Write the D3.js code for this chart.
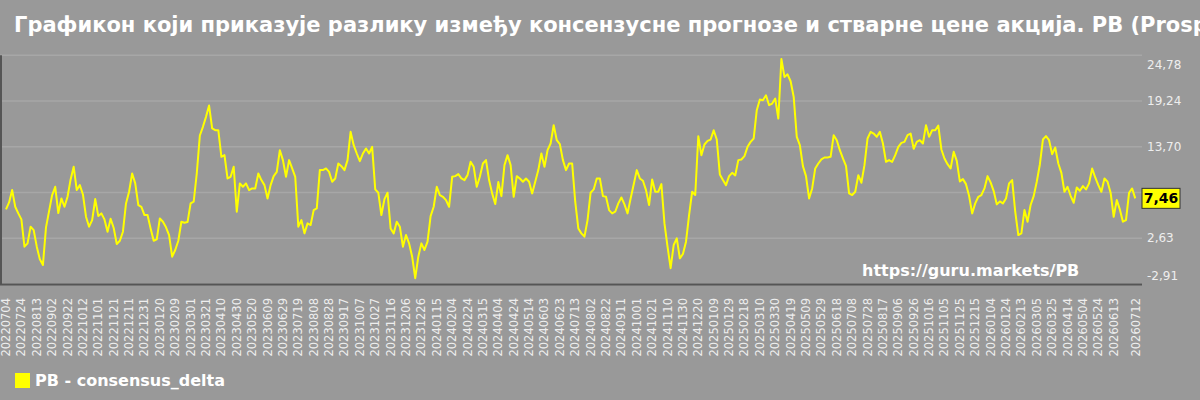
<!DOCTYPE html>
<html>
<head>
<meta charset="utf-8">
<script src="https://cdn.jsdelivr.net/npm/d3@7"></script>
<style>
  html, body { margin: 0; padding: 0; background: #999999; }
  svg { display: block; }
</style>
</head>
<body>
<div id="chart"></div>
<script>
const titleText = "Графикон који приказује разлику између консензусне прогнозе и стварне цене акција. PB (Prosperity Bancshares)";
const seriesName = "PB - consensus_delta";
const watermark = "https://guru.markets/PB";

// first and last date on the x axis, one value every 4 days
const startDate = "20220704";
const endDate = "20260712";
const stepDays = 4;
const tickStepDays = 20;

const yTicks = [-2.91, 2.63, 8.17, 13.70, 19.24, 24.78];

const values = [
    6.12, 6.97, 8.46, 6.44, 5.64, 4.91, 1.61, 2.01, 4.03, 3.62,
    1.61, 0.08, -0.61, 3.95, 5.92, 7.86, 8.86, 5.68, 7.45, 6.44,
    7.65, 9.75, 11.28, 8.46, 9.06, 7.93, 5.24, 4.03, 4.83, 7.37,
    5.31, 5.64, 4.91, 3.42, 4.99, 3.87, 1.93, 2.33, 3.42, 6.85,
    8.26, 10.47, 9.27, 6.65, 6.44, 5.44, 5.44, 3.82, 2.33, 2.49,
    5.03, 4.63, 3.95, 3.02, 0.40, 1.21, 2.33, 4.63, 4.51, 4.59,
    6.85, 7.05, 10.47, 15.07, 16.12, 17.33, 18.70, 15.92, 15.71, 15.71,
    12.49, 12.69, 9.87, 10.07, 11.28, 5.84, 9.27, 8.86, 9.27, 8.46,
    8.66, 8.66, 10.47, 9.67, 9.06, 7.45, 9.06, 10.15, 10.67, 13.29,
    12.09, 10.07, 12.09, 11.08, 10.07, 4.03, 4.83, 3.22, 4.43, 4.23,
    6.04, 6.24, 10.88, 10.88, 11.08, 10.67, 9.47, 9.87, 11.68, 11.36,
    10.88, 12.09, 15.51, 13.90, 12.89, 11.96, 12.89, 13.50, 12.89, 13.70,
    8.54, 8.14, 5.44, 7.37, 8.14, 3.82, 3.22, 4.63, 4.03, 1.61,
    3.02, 2.01, 0.40, -2.20, 0.40, 2.01, 1.21, 2.21, 5.31, 6.44,
    8.86, 7.86, 7.65, 7.25, 6.44, 10.07, 10.15, 10.39, 9.87, 9.67,
    10.27, 11.88, 11.28, 8.86, 10.07, 11.68, 12.09, 9.67, 8.06, 6.77,
    9.43, 7.73, 11.48, 12.69, 11.48, 7.65, 10.15, 9.87, 9.47, 9.87,
    9.47, 8.06, 9.47, 10.88, 12.89, 11.28, 13.29, 14.10, 16.32, 14.50,
    14.02, 12.09, 10.88, 11.68, 11.68, 7.05, 3.82, 3.22, 2.82, 4.83,
    8.14, 8.54, 9.87, 9.87, 7.73, 7.65, 6.04, 5.64, 5.84, 6.85,
    7.57, 6.73, 5.64, 7.45, 9.14, 10.88, 9.87, 9.59, 8.46, 6.65,
    9.75, 8.26, 8.26, 9.18, 4.43, 1.61, -1.00, 1.81, 2.61, 0.20,
    0.72, 2.21, 5.44, 8.26, 7.86, 14.99, 12.69, 13.98, 14.42, 14.58,
    15.71, 14.58, 10.35, 9.67, 9.06, 10.15, 10.55, 10.23, 12.09, 12.17,
    12.57, 13.70, 14.30, 14.71, 18.13, 19.42, 19.34, 19.94, 18.74, 18.94,
    19.54, 17.12, 24.34, 22.16, 22.48, 21.64, 19.74, 14.91, 13.90, 11.36,
    10.15, 7.45, 8.66, 11.08, 11.68, 12.17, 12.41, 12.41, 12.49, 15.11,
    14.50, 13.29, 12.29, 11.40, 8.06, 7.86, 8.26, 10.27, 9.35, 11.48,
    14.71, 15.51, 15.31, 14.91, 15.51, 14.10, 11.88, 12.09, 11.88, 12.69,
    13.70, 14.18, 14.30, 15.11, 15.31, 13.46, 14.30, 14.50, 14.10, 16.32,
    14.91, 15.71, 15.71, 16.28, 13.38, 12.29, 11.60, 11.08, 13.09, 12.00,
    9.51, 9.79, 9.18, 7.77, 5.64, 6.85, 7.65, 7.86, 8.66, 10.15,
    9.39, 8.34, 6.73, 7.09, 6.85, 7.45, 9.27, 9.67, 5.84, 3.02,
    3.22, 6.04, 4.63, 6.65, 7.73, 9.47, 11.56, 14.58, 14.99, 14.50,
    12.81, 13.62, 11.68, 10.55, 8.26, 8.86, 7.77, 6.93, 8.78, 8.38,
    8.94, 8.54, 9.27, 11.08, 9.99, 9.06, 8.26, 9.87, 9.47, 8.14,
    5.23, 7.25, 6.12, 4.63, 4.83, 8.14, 8.66, 7.46
];

function init() {
    const width = 1200, height = 400;
    const plot = { left: 0, right: 1142, top: 55.3, bottom: 284 };

    const parse = d3.timeParse("%Y%m%d");
    const fmt = d3.timeFormat("%Y%m%d");
    const t0 = parse(startDate), t1 = parse(endDate);

    const data = values.map((v, i) => ({ date: d3.timeDay.offset(t0, i * stepDays), value: v }));
    const last = data[data.length - 1];

    // tick dates every 20 days, plus the last date
    const tickDates = [];
    for (let d = t0; d3.timeDay.count(d, t1) >= tickStepDays; d = d3.timeDay.offset(d, tickStepDays)) {
        tickDates.push(d);
    }
    tickDates.push(t1);

    const x = d3.scaleTime()
        .domain([t0, t1])
        .range([6, 1136]);

    const y = d3.scaleLinear()
        .domain([yTicks[0], yTicks[yTicks.length - 1]])
        .range([plot.bottom, plot.top]);

    const svg = d3.select("#chart")
        .append("svg")
        .attr("width", width)
        .attr("height", height)
        .style("font-family", "'DejaVu Sans', sans-serif");

    svg.append("rect")
        .attr("width", width)
        .attr("height", height)
        .attr("fill", "#999999");

    svg.append("text")
        .attr("x", 14)
        .attr("y", 32)
        .attr("font-size", "21px")
        .attr("font-weight", "bold")
        .attr("fill", "#ffffff")
        .text(titleText);

    // grid
    svg.append("g")
        .selectAll("line")
        .data(yTicks)
        .join("line")
        .attr("x1", plot.left)
        .attr("x2", plot.right)
        .attr("y1", d => y(d))
        .attr("y2", d => y(d))
        .attr("stroke", "#a7a7a7")
        .attr("stroke-width", 1.5);

    // right tick labels, kept inside the plot height; the one under the last-value box is hidden
    svg.append("g")
        .selectAll("text")
        .data(yTicks.filter(t => Math.abs(y(t) - y(last.value)) > 14))
        .join("text")
        .attr("x", 1147)
        .attr("y", d => Math.max(65, Math.min(276, y(d))))
        .attr("dy", "0.35em")
        .attr("font-size", "12px")
        .attr("fill", "#eeeeee")
        .text(d => d.toFixed(2).replace(".", ","));

    svg.append("line")
        .attr("x1", 1).attr("x2", 1)
        .attr("y1", plot.top).attr("y2", plot.bottom)
        .attr("stroke", "#555555")
        .attr("stroke-width", 2);

    svg.append("line")
        .attr("x1", plot.left).attr("x2", plot.right)
        .attr("y1", plot.bottom + 0.5).attr("y2", plot.bottom + 0.5)
        .attr("stroke", "#555555")
        .attr("stroke-width", 2);

    // x tick labels
    svg.append("g")
        .selectAll("text")
        .data(tickDates)
        .join("text")
        .attr("transform", d => `translate(${x(d)},298) rotate(-90)`)
        .attr("text-anchor", "end")
        .attr("dy", "0.35em")
        .attr("font-size", "11.5px")
        .attr("fill", "#eeeeee")
        .text(d => fmt(d));

    svg.append("path")
        .datum(data)
        .attr("fill", "none")
        .attr("stroke", "#ffff00")
        .attr("stroke-width", 2)
        .attr("stroke-linejoin", "round")
        .attr("d", d3.line().x(d => x(d.date)).y(d => y(d.value)));

    svg.append("text")
        .attr("x", 862)
        .attr("y", 276)
        .attr("font-size", "16px")
        .attr("font-weight", "bold")
        .attr("fill", "#ffffff")
        .text(watermark);

    // last value marker
    svg.append("rect")
        .attr("x", 1142)
        .attr("y", y(last.value) - 10)
        .attr("width", 38)
        .attr("height", 20)
        .attr("fill", "#ffff00")
        .attr("stroke", "#333333")
        .attr("stroke-width", 1);

    svg.append("text")
        .attr("x", 1161)
        .attr("y", y(last.value))
        .attr("dy", "0.35em")
        .attr("text-anchor", "middle")
        .attr("font-size", "14px")
        .attr("font-weight", "bold")
        .attr("fill", "#000000")
        .text(last.value.toFixed(2).replace(".", ","));

    // legend
    svg.append("rect")
        .attr("x", 15)
        .attr("y", 373)
        .attr("width", 15)
        .attr("height", 15)
        .attr("fill", "#ffff00");

    svg.append("text")
        .attr("x", 35)
        .attr("y", 386)
        .attr("font-size", "16px")
        .attr("font-weight", "bold")
        .attr("fill", "#ffffff")
        .text(seriesName);
}

window.onload = init;
</script>
</body>
</html>
